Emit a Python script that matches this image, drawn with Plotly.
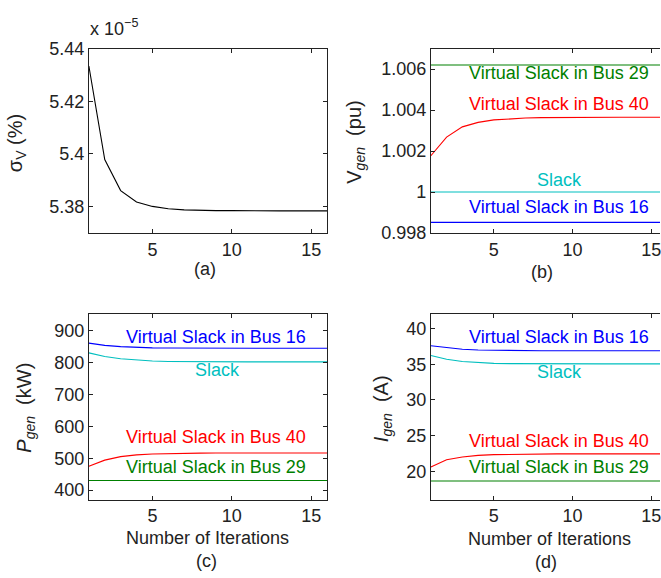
import plotly.graph_objects as go

W, H = 661, 578
iterations = list(range(1, 17))

# (a) sigma_V (x 1e-5 %)
sigma_v = [5.4334, 5.3979, 5.3861, 5.3818, 5.3801, 5.3792, 5.3788, 5.3786,
           5.3785, 5.3785, 5.3784, 5.3784, 5.3784, 5.3784, 5.3784, 5.3784]

# (b) V_gen (pu)
v_bus29 = [1.0062] * 16
v_bus40 = [1.00177, 1.00268, 1.00318, 1.00340, 1.00352, 1.00358, 1.00361, 1.00363,
           1.00364, 1.00364, 1.00365, 1.00365, 1.00365, 1.00365, 1.00365, 1.00365]
v_slack = [1.0] * 16
v_bus16 = [0.99852] * 16

# (c) P_gen (kW)
p_bus16 = [860, 853, 849, 846.5, 845.2, 844.6, 844.3, 844.1, 844, 844, 844, 844, 844, 844, 844, 844]
p_slack = [829.6, 818, 811, 806.5, 804, 802.8, 802.1, 801.8, 801.6, 801.5, 801.5, 801.5, 801.5, 801.5, 801.5, 801.5]
p_bus40 = [475, 494, 505, 510.5, 513.3, 514.8, 515.6, 516, 516.2, 516.3, 516.3, 516.3, 516.3, 516.3, 516.3, 516.3]
p_bus29 = [430] * 16

# (d) I_gen (A)
i_bus16 = [37.6, 37.3, 37.1, 37.0, 36.95, 36.92, 36.9, 36.9, 36.9, 36.9, 36.9, 36.9, 36.9, 36.9, 36.9, 36.9]
i_slack = [36.24, 35.7, 35.4, 35.22, 35.13, 35.09, 35.07, 35.06, 35.06, 35.06, 35.06, 35.06, 35.06, 35.06, 35.06, 35.06]
i_bus40 = [20.6, 21.6, 22.0, 22.22, 22.33, 22.38, 22.41, 22.42, 22.43, 22.43, 22.43, 22.43, 22.43, 22.43, 22.43, 22.43]
i_bus29 = [18.63] * 16

BLUE = "rgb(0,0,255)"
GREEN = "rgb(0,128,0)"
RED = "rgb(255,0,0)"
CYAN = "rgb(0,191,191)"
BLACK = "black"
FONT = "Liberation Sans, Arial, sans-serif"
FS = 18
FS_TITLE = 20

fig = go.Figure()

def add(x, y, color, xa, ya):
    fig.add_trace(go.Scatter(x=x, y=y, mode="lines", line=dict(color=color, width=1.1),
                             xaxis=xa, yaxis=ya, showlegend=False, hoverinfo="skip"))

add(iterations, sigma_v, BLACK, "x", "y")
add(iterations, v_bus29, GREEN, "x2", "y2")
add(iterations, v_bus40, RED, "x2", "y2")
add(iterations, v_slack, CYAN, "x2", "y2")
add(iterations, v_bus16, BLUE, "x2", "y2")
add(iterations, p_bus16, BLUE, "x3", "y3")
add(iterations, p_slack, CYAN, "x3", "y3")
add(iterations, p_bus40, RED, "x3", "y3")
add(iterations, p_bus29, GREEN, "x3", "y3")
add(iterations, i_bus16, BLUE, "x4", "y4")
add(iterations, i_slack, CYAN, "x4", "y4")
add(iterations, i_bus40, RED, "x4", "y4")
add(iterations, i_bus29, GREEN, "x4", "y4")

def px_x(p):
    return p / W

def px_y(p):
    return 1 - p / H

left_dom = [px_x(89), px_x(327.6)]
right_dom = [px_x(431.5), 1.0]
top_dom = [px_y(231), px_y(40)]
bot_dom = [px_y(507.3), px_y(315.3)]

tickfont = dict(family=FONT, size=FS, color="#222")

def xax(dom, anchor, rng):
    return dict(domain=dom, anchor=anchor, range=rng, tickvals=[5, 10, 15],
                ticks="inside", ticklen=4, tickcolor="#222", showline=True, linecolor="#222",
                linewidth=1, mirror="ticks", showgrid=False, zeroline=False,
                tickfont=tickfont, ticklabeloverflow="allow")

def yax(dom, anchor, rng, tickvals, ticktext, mirror=True):
    return dict(domain=dom, anchor=anchor, range=rng, tickvals=tickvals, ticktext=ticktext,
                ticks="inside", ticklen=4, tickcolor="#222", showline=True, linecolor="#222",
                linewidth=1, mirror="ticks" if mirror else False, showgrid=False,
                zeroline=False, tickfont=tickfont)

fig.update_layout(
    width=W, height=H, margin=dict(l=0, r=0, t=0, b=0),
    paper_bgcolor="white", plot_bgcolor="white",
    font=dict(family=FONT, size=FS, color="#222"),
    xaxis=xax(left_dom, "y", [1, 16]),
    yaxis=yax(top_dom, "x", [5.37, 5.44], [5.38, 5.40, 5.42, 5.44], ["5.38", "5.4", "5.42", "5.44"]),
    xaxis2=xax(right_dom, "y2", [1, 15.55]),
    yaxis2=yax(top_dom, "x2", [0.998, 1.007], [0.998, 1.0, 1.002, 1.004, 1.006],
               ["0.998", "1", "1.002", "1.004", "1.006"], mirror=False),
    xaxis3=xax(left_dom, "y3", [1, 16]),
    yaxis3=yax(bot_dom, "x3", [370, 950], [400, 500, 600, 700, 800, 900],
               ["400", "500", "600", "700", "800", "900"]),
    xaxis4=xax(right_dom, "y4", [1, 15.55]),
    yaxis4=yax(bot_dom, "x4", [16, 42], [20, 25, 30, 35, 40],
               ["20", "25", "30", "35", "40"], mirror=False),
)

ann = []

def label(text, x, y, xref, yref, color):
    ann.append(dict(text=text, x=x, y=y, xref=xref, yref=yref, showarrow=False,
                    font=dict(family=FONT, size=FS, color=color), xanchor="center", yanchor="middle"))

# curve labels
label("Virtual Slack in Bus 29", 9.16, 1.00583, "x2", "y2", GREEN)
label("Virtual Slack in Bus 40", 9.16, 1.0043, "x2", "y2", RED)
label("Slack", 9.16, 1.0006, "x2", "y2", CYAN)
label("Virtual Slack in Bus 16", 9.16, 0.99925, "x2", "y2", BLUE)

label("Virtual Slack in Bus 16", 9.0, 880, "x3", "y3", BLUE)
label("Slack", 9.1, 776, "x3", "y3", CYAN)
label("Virtual Slack in Bus 40", 9.0, 566, "x3", "y3", RED)
label("Virtual Slack in Bus 29", 9.0, 474, "x3", "y3", GREEN)

label("Virtual Slack in Bus 16", 9.16, 38.8, "x4", "y4", BLUE)
label("Slack", 9.16, 33.9, "x4", "y4", CYAN)
label("Virtual Slack in Bus 40", 9.16, 24.24, "x4", "y4", RED)
label("Virtual Slack in Bus 29", 9.16, 20.6, "x4", "y4", GREEN)

def plabel(text, xp, yp, angle=0, xanchor="center", size=FS):
    ann.append(dict(text=text, x=px_x(xp), y=px_y(yp), xref="paper", yref="paper",
                    showarrow=False, textangle=angle, xanchor=xanchor, yanchor="middle",
                    font=dict(family=FONT, size=size, color="#222")))

plabel("x 10<sup>−5</sup>", 88, 18, xanchor="left")
plabel("σ<sub>V</sub> (%)", 16, 138, angle=-90, size=FS_TITLE)
plabel("V<sub><i>gen</i></sub>  (pu)", 356, 137, angle=-90, size=FS_TITLE)
plabel("<i>P<sub>gen</sub></i>  (kW)", 26, 412, angle=-90, size=FS_TITLE)
plabel("<i>I<sub>gen</sub></i>  (A)", 383, 413, angle=-90, size=FS_TITLE)

plabel("(a)", 205, 268)
plabel("(b)", 543, 271)
plabel("Number of Iterations", 208, 547)
plabel("(c)", 207, 571)
plabel("Number of Iterations", 550, 548)
plabel("(d)", 547, 572)

fig.update_layout(annotations=ann)
fig.write_html("out.html")
